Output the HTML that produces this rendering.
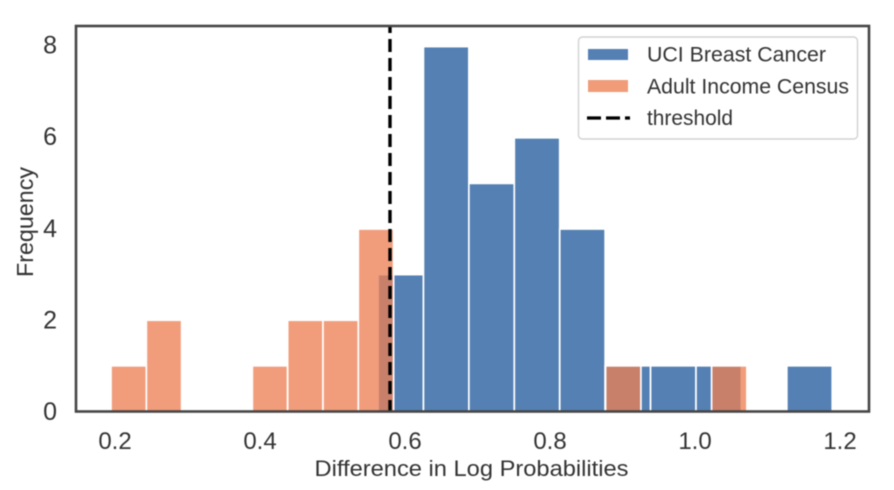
<!DOCTYPE html>
<html>
<head>
<meta charset="utf-8">
<title>Difference in Log Probabilities histogram</title>
<style>
html,body{margin:0;padding:0;background:#fff;width:894px;height:490px;overflow:hidden}
svg{display:block;filter:blur(.55px)}
text{font-family:"Liberation Sans",sans-serif;fill:#333}
</style>
</head>
<body>
<svg id="chart" xmlns="http://www.w3.org/2000/svg" width="894" height="490" viewBox="0 0 894 490">
  <g id="bars-blue"></g>
  <g id="bars-orange"></g>
  <line id="threshold" stroke="#000" stroke-width="3.4" stroke-dasharray="13 6" stroke-dashoffset="6"></line>
  <rect x="76" y="26" width="793" height="385.5" fill="none" stroke="#454545" stroke-width="2.6"></rect>
  <g id="x-ticks"></g>
  <g id="y-ticks"></g>
  <text x="471.5" y="476" font-size="22.5" text-anchor="middle" textLength="314" lengthAdjust="spacingAndGlyphs">Difference in Log Probabilities</text>
  <text transform="translate(33,222) rotate(-90)" font-size="23" text-anchor="middle" textLength="110" lengthAdjust="spacingAndGlyphs">Frequency</text>
  <g>
    <rect x="578.5" y="37" width="279" height="102" rx="4" fill="#fff" fill-opacity=".85" stroke="#d2d2d2" stroke-width="1.4"></rect>
    <g>
      <rect x="588" y="49" width="40" height="11" fill="#5480b3"></rect>
      <text x="647" y="61.5" font-size="21" textLength="179" lengthAdjust="spacingAndGlyphs">UCI Breast Cancer</text>
    </g>
    <g>
      <rect x="588" y="80" width="40" height="12" fill="#f19c79"></rect>
      <text x="647" y="93.5" font-size="21" textLength="202" lengthAdjust="spacingAndGlyphs">Adult Income Census</text>
    </g>
    <g>
      <line x1="587" y1="118" x2="630" y2="118" stroke="#000" stroke-width="3.2" stroke-dasharray="14 5"></line>
      <text x="647" y="125" font-size="21" textLength="86" lengthAdjust="spacingAndGlyphs">threshold</text>
    </g>
  </g>
</svg>
<script>
const blueCounts = [3, 8, 5, 6, 4, 1, 1, 1, 0, 1];
const blueRange = [0.5628, 1.1893];
const orangeCounts = [1, 2, 0, 0, 1, 2, 2, 4, 0, 0, 0, 0, 0, 0, 1, 0, 0, 1];
const orangeRange = [0.1945, 1.0716];
const thresholdValue = [0.5793];
const xTickValues = [0.2, 0.4, 0.6, 0.8, 1.0, 1.2];
const yTickValues = [0, 2, 4, 6, 8];

const SVGNS = 'http://www.w3.org/2000/svg';
function xScale(v) { return 115 + (v - 0.2) * 725; }
function yScale(v) { return 411.4 - v * 45.6; }

function drawBars(groupId, counts, range, fill, opacity, name) {
  const group = document.getElementById(groupId);
  const step = (range[1] - range[0]) / counts.length;
  counts.forEach(function (count, i) {
    if (count <= 0) return;
    const x0 = xScale(range[0] + i * step);
    const x1 = xScale(range[0] + (i + 1) * step);
    const rect = document.createElementNS(SVGNS, 'rect');
    
    
    rect.setAttribute('x', x0);
    rect.setAttribute('y', yScale(count));
    rect.setAttribute('width', x1 - x0);
    rect.setAttribute('height', yScale(0) - yScale(count));
    rect.setAttribute('fill', fill);
    rect.setAttribute('fill-opacity', opacity);
    rect.setAttribute('stroke', '#fff');
    rect.setAttribute('stroke-width', '1.7');
    group.appendChild(rect);
  });
}
drawBars('bars-blue', blueCounts, blueRange, '#5480b3', 1, 'uci-breast-cancer-bar');
drawBars('bars-orange', orangeCounts, orangeRange, 'rgb(237,128,84)', 0.77, 'adult-income-census-bar');

const thresholdLine = document.getElementById('threshold');
thresholdLine.setAttribute('x1', xScale(thresholdValue[0]));
thresholdLine.setAttribute('x2', xScale(thresholdValue[0]));
thresholdLine.setAttribute('y1', 26);
thresholdLine.setAttribute('y2', 411);

const xTickGroup = document.getElementById('x-ticks');
xTickValues.forEach(function (v) {
  const t = document.createElementNS(SVGNS, 'text');
  
  
  t.setAttribute('x', xScale(v));
  t.setAttribute('y', 449);
  t.setAttribute('font-size', '24');
  t.setAttribute('text-anchor', 'middle');
  t.textContent = v.toFixed(1);
  xTickGroup.appendChild(t);
});

const yTickGroup = document.getElementById('y-ticks');
yTickValues.forEach(function (v) {
  const t = document.createElementNS(SVGNS, 'text');
  
  
  t.setAttribute('x', 57);
  t.setAttribute('y', 420 - v * 45.8);
  t.setAttribute('font-size', '25');
  t.setAttribute('text-anchor', 'end');
  t.textContent = String(v);
  yTickGroup.appendChild(t);
});
</script>
</body>
</html>
